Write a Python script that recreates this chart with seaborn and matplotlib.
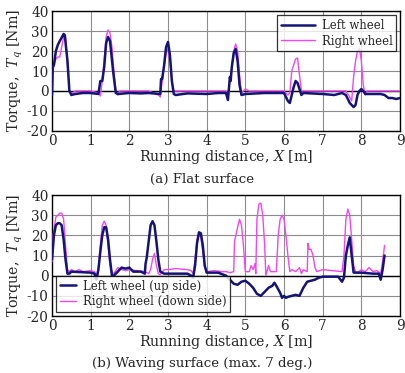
import matplotlib
import matplotlib.pyplot as plt
import pandas as pd
import seaborn as sns

matplotlib.use("Agg")

# (a) flat surface
flat_left_x = [0, 0.02, 0.05, 0.1, 0.15, 0.2, 0.3, 0.33, 0.4, 0.45, 0.5, 0.6, 0.8, 1.0, 1.2,
               1.25, 1.3, 1.35, 1.4, 1.45, 1.5, 1.58, 1.65, 1.7, 2.0, 2.3, 2.5, 2.8,
               2.82, 2.85, 2.9, 2.95, 3.0, 3.05, 3.1, 3.15, 3.2, 3.5, 4.0, 4.3, 4.5,
               4.55, 4.6, 4.62, 4.65, 4.7, 4.75, 4.8, 4.85, 4.9, 5.0, 5.5, 6.0, 6.1,
               6.15, 6.2, 6.25, 6.3, 6.35, 6.4, 6.45, 6.5, 7.0, 7.3, 7.5, 7.6, 7.7,
               7.8, 7.85, 7.9, 7.95, 8.0, 8.05, 8.1, 8.5, 8.6, 8.7, 8.8, 8.9, 9.0]
flat_left_y = [-2, 12, 13, 20, 23, 25, 28.5, 28, 15, 0, -2, -1.5, -1, -1, -1.5,
               5, 5, 12, 24, 27, 25, 10, -1, -1.5, -1, -1.2, -1, -1.5,
               6, 6, 13, 22, 24.5, 18, 5, -1.5, -2, -1.2, -1.5, -1, -1,
               -4.5, 7, 5, 12, 19, 21, 15, 3, -2, -1.5, -1, -1, -5,
               -6, -2, 2, 5, 4, 1, -2, -1, -1.5, -2, -1, -2, -6,
               -8, -7, -2, 0, 1, 0, -1.5, -1.5, -2, -3.5, -3.5, -4, -3.5]
flat_right_x = [0, 0.02, 0.05, 0.1, 0.15, 0.2, 0.25, 0.3, 0.35, 0.4, 0.45, 0.5, 0.6, 1.0,
                1.2, 1.25, 1.3, 1.35, 1.4, 1.45, 1.5, 1.55, 1.6, 1.65, 1.7, 1.75, 2.0,
                2.5, 2.75, 2.8, 2.85, 2.9, 2.95, 3.0, 3.05, 3.1, 3.15, 3.2, 4.5, 4.55,
                4.6, 4.65, 4.7, 4.75, 4.8, 4.85, 4.9, 5.0, 5.1, 6.0, 6.1, 6.15, 6.2,
                6.25, 6.3, 6.35, 6.4, 6.45, 6.5, 7.6, 7.7, 7.75, 7.8, 7.85, 7.9, 7.95,
                8.0, 8.05, 8.1, 8.15, 9.0]
flat_right_y = [-1, 10, 13, 16, 17, 17, 22, 27, 27, 14, 0, -1.5, 0, 0,
                -1, -2.5, 5, 15, 27, 30.5, 29, 22, 10, 0, -2, 0, 0,
                0, -2, -3, 5, 12, 19, 21, 15, 5, 0, 0, 0, -2,
                5, 12, 20, 23.5, 20, 8, -1, 1, 0, 0, -2, -1, 10,
                13, 16, 16.5, 8, 0, 0, 0, -3, -5, 7, 15, 20, 21.5,
                15, 3, -2, 0, 0]

# (b) waving surface
wave_left_x = [0, 0.05, 0.1, 0.15, 0.2, 0.25, 0.3, 0.35, 0.4, 0.45, 0.5, 1.0, 1.1, 1.15,
               1.2, 1.25, 1.3, 1.35, 1.4, 1.45, 1.5, 1.55, 1.6, 1.7, 1.8, 1.9, 2.0,
               2.05, 2.1, 2.3, 2.4, 2.42, 2.45, 2.5, 2.55, 2.6, 2.65, 2.7, 2.75, 2.8,
               2.9, 3.5, 3.6, 3.65, 3.7, 3.75, 3.8, 3.85, 3.9, 3.95, 4.0, 4.3, 4.5,
               4.6, 4.7, 4.8, 4.9, 5.0, 5.1, 5.2, 5.3, 5.4, 5.5, 5.6, 5.7, 5.75, 5.8,
               5.9, 5.95, 6.0, 6.05, 6.1, 6.2, 6.3, 6.4, 6.5, 6.6, 6.7, 6.8, 6.9, 7.0,
               7.2, 7.4, 7.5, 7.55, 7.6, 7.65, 7.7, 7.75, 7.8, 7.9, 8.0, 8.3, 8.45,
               8.5, 8.55, 8.6]
wave_left_y = [8, 20, 25, 26, 26, 25, 18, 8, 1, 1, 2, 1.5, 1, -2,
               3, 12, 20, 24, 24, 18, 8, 0, 0, 2, 4, 3.5, 4,
               3, 2, 2, 1, 6, 9, 17, 25, 27, 25, 17, 8, 2,
               1, 1, 0, -1, 5, 16, 21.5, 21, 15, 5, 1.5, 1.5, 0,
               -2, -4, -4.5, -3, -2.5, -4, -6, -9, -10, -8, -6, -5, -3.5, -5,
               -8.5, -11, -10, -11, -10.5, -10, -9.5, -10, -6, -3, -2.5, -2, -1, -0.5,
               -0.5, -0.5, -3, -1, 10, 15, 19, 10, 1.5, 1.5, 1.5, 1, 1,
               -2, 3, 10]
wave_right_x = [0, 0.03, 0.1, 0.15, 0.2, 0.25, 0.3, 0.35, 0.4, 0.45, 0.5, 0.6, 0.7, 0.8,
                1.0, 1.1, 1.15, 1.2, 1.25, 1.3, 1.35, 1.4, 1.45, 1.5, 1.55, 1.6, 1.7,
                1.8, 1.9, 2.0, 2.2, 2.4, 2.5, 2.55, 2.6, 2.65, 2.7, 2.75, 2.8, 2.9, 3.0,
                3.2, 3.5, 3.6, 3.65, 3.7, 3.75, 3.8, 3.85, 3.9, 3.95, 4.0, 4.2, 4.4,
                4.5, 4.6, 4.7, 4.72, 4.8, 4.85, 4.9, 4.95, 5.0, 5.1, 5.15, 5.2, 5.25,
                5.27, 5.3, 5.35, 5.4, 5.45, 5.5, 5.53, 5.6, 5.65, 5.7, 5.8, 5.85, 5.9,
                5.95, 6.0, 6.05, 6.1, 6.15, 6.2, 6.3, 6.4, 6.45, 6.5, 6.6, 6.62, 6.65,
                6.7, 6.75, 6.8, 6.85, 7.0, 7.5, 7.55, 7.6, 7.65, 7.7, 7.75, 7.8, 7.85,
                7.9, 8.0, 8.1, 8.2, 8.3, 8.4, 8.5, 8.55, 8.6]
wave_right_y = [7, 20, 29, 30, 31, 31, 28, 15, 3, 2, 3, 2, 3, 2,
                2.5, 2, 0, 4, 15, 25, 27, 25, 15, 5, 2, 1, 4,
                3, 2.5, 3, 2.5, 2, 1, 3, 8, 11, 5, 1, 0.5, 3, 3,
                3.5, 3, 2.5, 1, 8, 18, 20, 19, 12, 4, 2, 2.5, 2,
                2, 1.5, 2, 17, 24, 28, 25, 15, 2, 2, 5, 3, 6,
                1, 28, 35.5, 36, 30, 15, 0, 5, 2, 2, 2, 20, 28,
                30, 28, 20, 10, 2, 3, 2, 4, 1, 3, 2, 16, 13,
                13, 10, 4, 2, 3, 2, 10, 28, 33, 30, 18, 5, 2,
                1.5, 3, 2, 4, 2, 2.5, 1, 7, 15]

x_ticks = list(range(0, 10))
y_ticks = [-20, -10, 0, 10, 20, 30, 40]

NAVY = "#141478"
MAGENTA = "#f244f2"


def panel(ax, lx, ly, rx, ry, left_label, right_label, legend_loc, legend_anchor, handle_len):
    left = pd.DataFrame({"x": lx, "y": ly})
    right = pd.DataFrame({"x": rx, "y": ry})
    sns.lineplot(data=left, x="x", y="y", ax=ax, color=NAVY, linewidth=1.8,
                 label=left_label, estimator=None, sort=False, zorder=4)
    sns.lineplot(data=right, x="x", y="y", ax=ax, color=MAGENTA, linewidth=1.0,
                 label=right_label, estimator=None, sort=False, zorder=3)
    ax.axhline(0, color="black", linewidth=1.0, zorder=2)
    ax.set_xlim(0, 9)
    ax.set_ylim(-20, 40)
    ax.set_xticks(x_ticks)
    ax.set_yticks(y_ticks)
    ax.grid(True, color="#8c8c8c", linewidth=0.8)
    ax.set_axisbelow(True)
    ax.tick_params(length=0, pad=2.5, labelsize=9.8)
    ax.set_xlabel("Running distance, $X$ [m]", fontsize=10.2, labelpad=0)
    ax.set_ylabel("Torque,  $T_q$ [Nm]", fontsize=10.2, labelpad=1)
    for spine in ax.spines.values():
        spine.set_color("black")
        spine.set_linewidth(1.0)
    leg = ax.legend(loc=legend_loc, bbox_to_anchor=legend_anchor, fontsize=8.4,
                    frameon=True, fancybox=False, borderpad=0.3, labelspacing=0.25,
                    handlelength=handle_len, handletextpad=0.6, borderaxespad=0.35)
    leg.get_frame().set_edgecolor("black")
    leg.get_frame().set_linewidth(0.9)
    leg.set_zorder(10)


sns.set_style("white")
plt.rcParams["font.family"] = ["DejaVu Serif"]
plt.rcParams["mathtext.fontset"] = "dejavuserif"
plt.rcParams["axes.unicode_minus"] = False

fig = plt.figure(figsize=(4.05, 3.73), dpi=100, facecolor="white")
ax1 = fig.add_axes([0.1284, 0.6488, 0.8593, 0.3217])
ax2 = fig.add_axes([0.1284, 0.1528, 0.8593, 0.3244])

panel(ax1, flat_left_x, flat_left_y, flat_right_x, flat_right_y,
      "Left wheel", "Right wheel", "upper right", (1.0, 1.0), 2.9)
panel(ax2, wave_left_x, wave_left_y, wave_right_x, wave_right_y,
      "Left wheel (up side)", "Right wheel (down side)", "lower left", (0.0, 0.0), 1.4)

fig.text(0.5, 1 - 179 / 373, "(a) Flat surface", ha="center", va="center", fontsize=9.6)
fig.text(0.5, 1 - 364 / 373, "(b) Waving surface (max. 7 deg.)", ha="center", va="center",
         fontsize=9.6)

fig.savefig("out.png", dpi=100)
plt.close(fig)
